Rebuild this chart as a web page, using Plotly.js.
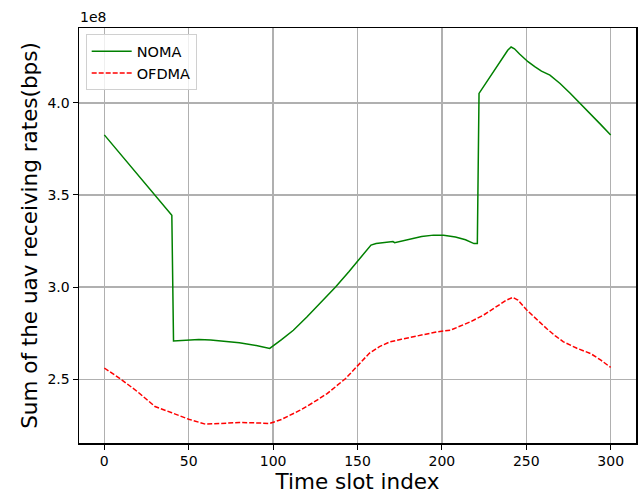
<!DOCTYPE html>
<html>
<head>
<meta charset="utf-8">
<script src="https://cdn.plot.ly/plotly-3.0.1.min.js"></script>
<style>html,body{margin:0;padding:0;background:#fff;}#chart{width:642px;height:499px;}</style>
</head>
<body>
<div id="chart"></div>
<script>
// Values in units of 1e8 bps
const nomaSlots = [0, 10, 20, 30, 40, 41, 50, 56, 63, 70, 80, 90, 98, 105, 112, 120, 128, 137, 145, 151, 155, 158, 161, 165, 169, 170, 171, 172, 180, 188, 195, 201, 208, 214, 219, 221, 222, 230, 236, 239, 241, 243, 246, 251, 255, 259, 264, 270, 276, 282, 288, 294, 300];
const nomaRates = [3.826, 3.717, 3.608, 3.499, 3.390, 2.708, 2.713, 2.715, 2.713, 2.708, 2.698, 2.683, 2.667, 2.715, 2.766, 2.838, 2.914, 3.001, 3.085, 3.150, 3.195, 3.228, 3.237, 3.241, 3.246, 3.250, 3.247, 3.241, 3.258, 3.274, 3.282, 3.281, 3.272, 3.257, 3.236, 3.237, 4.051, 4.160, 4.240, 4.285, 4.303, 4.293, 4.265, 4.223, 4.196, 4.172, 4.150, 4.105, 4.052, 3.997, 3.940, 3.883, 3.825];

const ofdmaSlots = [0, 10, 20, 30, 40, 50, 60, 70, 80, 90, 98, 105, 116, 124, 132, 143, 151, 157, 163, 169, 176, 183, 190, 197, 205, 211, 217, 225, 232, 238, 242, 245, 250, 256, 262, 267, 272, 280, 288, 294, 300];
const ofdmaRates = [2.561, 2.499, 2.430, 2.352, 2.318, 2.283, 2.256, 2.262, 2.265, 2.263, 2.260, 2.282, 2.332, 2.375, 2.422, 2.504, 2.580, 2.641, 2.677, 2.702, 2.717, 2.730, 2.742, 2.757, 2.766, 2.787, 2.812, 2.850, 2.890, 2.928, 2.944, 2.930, 2.878, 2.825, 2.775, 2.737, 2.703, 2.668, 2.640, 2.605, 2.564];

const seriesNames = ["NOMA", "OFDMA"];
const xTicks = [0, 50, 100, 150, 200, 250, 300];
const yTicks = [2.5, 3.0, 3.5, 4.0];
const yTickText = ["2.5", "3.0", "3.5", "4.0"];
const offsetText = "1e8";

const font = "DejaVu Sans, sans-serif";

const traces = [
  {x: nomaSlots, y: nomaRates, name: seriesNames[0], mode: "lines",
   line: {color: "green", width: 1.5}},
  {x: ofdmaSlots, y: ofdmaRates, name: seriesNames[1], mode: "lines",
   line: {color: "red", width: 1.5, dash: "5px,2px"}}
];

const axisCommon = {
  showline: true, mirror: true, linecolor: "black", linewidth: 1.5,
  ticks: "outside", ticklen: 5, tickwidth: 1, tickcolor: "black",
  showgrid: true, gridcolor: "#b0b0b0", gridwidth: 1.4,
  zeroline: false, tickfont: {family: font, size: 14, color: "black"}
};

const layout = {
  width: 642, height: 499,
  margin: {l: 79, r: 6, t: 28, b: 56},
  paper_bgcolor: "white", plot_bgcolor: "white",
  showlegend: true,
  legend: {x: 0.012, y: 0.985, xanchor: "left", yanchor: "top",
           itemwidth: 40,
           bgcolor: "rgba(255,255,255,0.8)", bordercolor: "#d0d0d0", borderwidth: 1,
           font: {family: font, size: 14.5, color: "black"}},
  xaxis: Object.assign({}, axisCommon, {
    range: [-15, 315], tickvals: xTicks,
    title: {text: "Time slot index", font: {family: font, size: 21.5, color: "black"}, standoff: 2}
  }),
  yaxis: Object.assign({}, axisCommon, {
    range: [2.154, 4.406], tickvals: yTicks, ticktext: yTickText,
    title: {text: "Sum of the uav receiving rates(bps)", font: {family: font, size: 21.5, color: "black"}, standoff: 4}
  }),
  annotations: [{
    text: offsetText, xref: "paper", yref: "paper", x: 0, y: 1,
    xanchor: "left", yanchor: "bottom", showarrow: false, yshift: 1, xshift: -1,
    font: {family: font, size: 14, color: "black"}
  }]
};

Plotly.newPlot("chart", traces, layout, {displayModeBar: false, staticPlot: true});
</script>
</body>
</html>
